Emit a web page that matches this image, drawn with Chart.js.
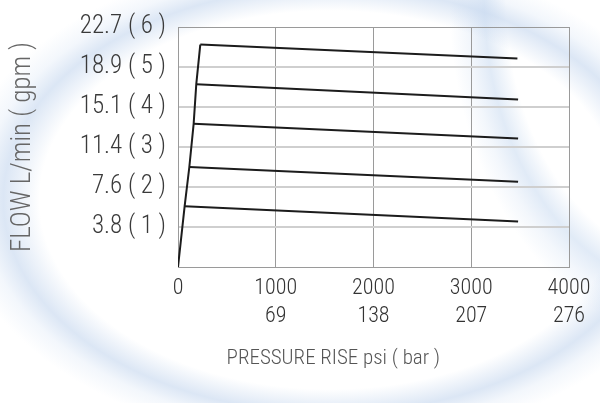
<!DOCTYPE html>
<html>
<head>
<meta charset="utf-8">
<script src="https://cdn.jsdelivr.net/npm/chart.js@4.4.1/dist/chart.umd.min.js"></script>
<style>
  html, body { margin: 0; padding: 0; }
  body {
    width: 600px; height: 403px; overflow: hidden;
    background-color: #ffffff;
    background-image:
      radial-gradient(ellipse 330px 215px at 330px 200px, rgba(255,255,255,0) 88%, rgba(196,214,238,0.6) 99%, rgba(215,228,245,0.3) 106%, rgba(255,255,255,0) 114%),
      radial-gradient(ellipse 220px 300px at 700px 0px, rgba(255,255,255,0) 88%, rgba(200,218,240,0.55) 98%, rgba(215,228,245,0.3) 106%, rgba(255,255,255,0) 114%);
  }
  #wrap { position: relative; width: 600px; height: 403px; }
</style>
</head>
<body>
<div id="wrap"><canvas id="c" width="600" height="403"></canvas></div>
<script>
// ---- data (psi, gpm) ----
const psiTicks = [0, 1000, 2000, 3000, 4000];
const barTicks = ['', '69', '138', '207', '276'];
const gpmTicks = [0, 1, 2, 3, 4, 5, 6];
const lminTicks = ['', '3.8', '7.6', '11.4', '15.1', '18.9', '22.7'];

const riseLine = [[0, 0], [68, 1.52], [116, 2.50], [160, 3.58], [187, 4.57], [228, 5.56]];
const curve1 = [[68, 1.52], [3479, 1.14]];
const curve2 = [[116, 2.50], [3479, 2.13]];
const curve3 = [[160, 3.58], [3479, 3.21]];
const curve4 = [[187, 4.57], [3479, 4.19]];
const curve5 = [[228, 5.56], [3472, 5.21]];

const FONT = '"Roboto Condensed", "Roboto", sans-serif';
const toPts = arr => arr.map(p => ({ x: p[0], y: p[1] }));
const lineDs = arr => ({
  data: toPts(arr), borderColor: '#1c1c1c', borderWidth: 2,
  pointRadius: 0, fill: false, tension: 0
});

new Chart(document.getElementById('c'), {
  type: 'line',
  data: {
    datasets: [riseLine, curve1, curve2, curve3, curve4, curve5].map(lineDs)
  },
  options: {
    responsive: false,
    animation: false,
    events: [],
    layout: { padding: { left: 0, right: 31, top: 22, bottom: 0 } },
    plugins: { legend: { display: false }, tooltip: { enabled: false } },
    scales: {
      x: {
        type: 'linear', min: 0, max: 4000,
        afterFit: s => { s.height = 403 - 267; },
        afterBuildTicks: s => { s.ticks = psiTicks.map(v => ({ value: v })); },
        ticks: {
          padding: 7,
          color: '#333',
          font: { family: FONT, size: 22, weight: 300, lineHeight: 1.3 },
          maxRotation: 0,
          callback: (v) => {
            const i = psiTicks.indexOf(v);
            return barTicks[i] ? [String(v), barTicks[i]] : String(v);
          }
        },
        grid: { color: '#9a9a9a', lineWidth: 1, drawTicks: false },
        border: { color: '#9a9a9a', width: 1 },
        title: {
          display: true,
          text: 'PRESSURE RISE psi ( bar )' + '\u00a0'.repeat(17),
          color: '#555',
          font: { family: FONT, size: 21, weight: 300, lineHeight: 1.2 },
          padding: { top: 0, bottom: 32 }
        }
      },
      y: {
        type: 'linear', min: 0, max: 6,
        afterFit: s => { s.width = 178; },
        afterBuildTicks: s => { s.ticks = gpmTicks.map(v => ({ value: v })); },
        ticks: {
          padding: 12,
          color: '#3a3a3a',
          font: { family: FONT, size: 25, weight: 300 },
          callback: (v) => {
            const i = gpmTicks.indexOf(v);
            return lminTicks[i] ? lminTicks[i] + ' ( ' + v + ' )' : '';
          }
        },
        grid: {
          drawTicks: false,
          color: ctx => (ctx.tick && (ctx.tick.value === 6 || ctx.tick.value === 0)) ? '#9a9a9a' : '#cfcfcf',
          lineWidth: ctx => (ctx.tick && (ctx.tick.value === 6 || ctx.tick.value === 0)) ? 1 : 2
        },
        border: { color: '#9a9a9a', width: 1 },
        title: {
          display: true,
          text: 'FLOW L/min ( gpm )',
          color: '#666',
          font: { family: FONT, size: 27, weight: 300, lineHeight: 1.2 },
          padding: { top: 7, bottom: 0 }
        }
      }
    }
  }
});
</script>
</body>
</html>
